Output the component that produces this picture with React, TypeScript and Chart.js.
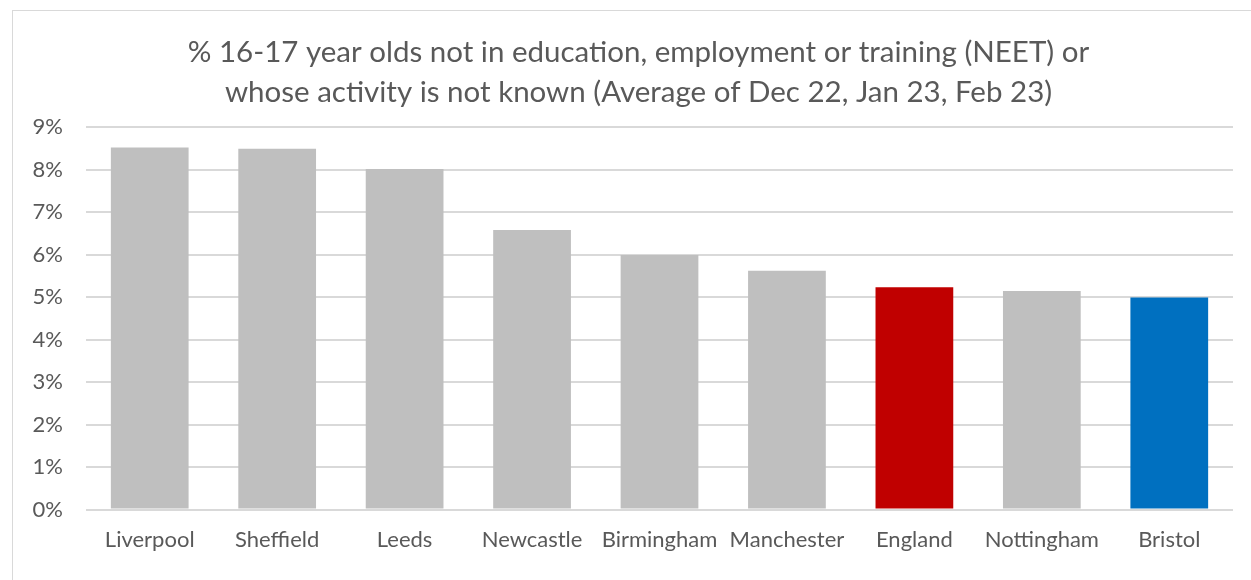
import React, { useEffect, useRef } from "react";
import { Chart, registerables } from "chart.js";

Chart.register(...registerables);

const categories = ["Liverpool", "Sheffield", "Leeds", "Newcastle", "Birmingham", "Manchester", "England", "Nottingham", "Bristol"];
const values = [8.52, 8.49, 8.01, 6.58, 5.99, 5.62, 5.23, 5.14, 4.99];
const barColors = ["#BFBFBF", "#BFBFBF", "#BFBFBF", "#BFBFBF", "#BFBFBF", "#BFBFBF", "#C00000", "#BFBFBF", "#0070C0"];
const titleLines = [
  "% 16-17 year olds not in education, employment or training (NEET) or",
  "whose activity is not known (Average of Dec 22, Jan 23, Feb 23)",
];

const FONT = "Lato, 'Open Sans', sans-serif";
const TEXT = "#595959";

const titlePlugin = {
  id: "excelTitle",
  afterDraw(chart: any) {
    const ctx = chart.ctx;
    ctx.save();
    ctx.fillStyle = TEXT;
    ctx.font = `normal 29.5px ${FONT}`;
    ctx.textAlign = "center";
    ctx.textBaseline = "middle";
    const cx = 625.5;
    titleLines.forEach((line, i) => {
      ctx.fillText(line, cx, 41 + i * 40);
    });
    ctx.restore();
  },
};

export default function App() {
  const ref = useRef<HTMLCanvasElement | null>(null);
  useEffect(() => {
    if (!ref.current) return;
    const chart = new Chart(ref.current, {
      type: "bar",
      data: {
        labels: categories,
        datasets: [
          {
            data: values,
            backgroundColor: barColors,
            barPercentage: 0.61,
            categoryPercentage: 1,
          },
        ],
      },
      plugins: [titlePlugin],
      options: {
        animation: false,
        responsive: true,
        maintainAspectRatio: false,
        layout: { padding: { left: 0, right: 18, top: 116, bottom: 10 } },
        plugins: {
          legend: { display: false },
          tooltip: { enabled: false },
          title: { display: false },
        },
        scales: {
          x: {
            grid: { display: false, drawTicks: false },
            border: { display: false },
            ticks: { color: TEXT, font: { family: FONT, size: 22 }, padding: 17, maxRotation: 0, autoSkip: false },
          },
          y: {
            min: 0,
            max: 9,
            afterFit: (s: any) => {
              s.width = 73;
            },
            grid: { color: "#D9D9D9", lineWidth: 2, drawTicks: false },
            border: { display: false },
            ticks: {
              stepSize: 1,
              color: TEXT,
              font: { family: FONT, size: 22 },
              padding: 23,
              callback: (v: any) => v + "%",
            },
          },
        },
      },
    });
    return () => chart.destroy();
  }, []);
  return (
    <div
      style={{
        position: "fixed",
        left: 12,
        top: 10,
        width: 1250,
        height: 580,
        border: "1px solid #D9D9D9",
        background: "#fff",
      }}
    >
      <div style={{ position: "relative", width: 1238, height: 569 }}>
        <canvas ref={ref} />
      </div>
    </div>
  );
}
